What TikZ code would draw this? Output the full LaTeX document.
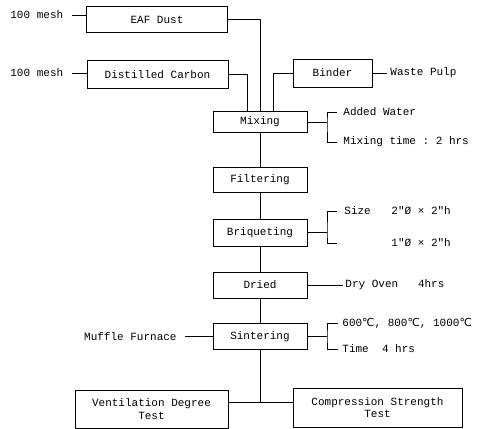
\documentclass[tikz,border=0pt]{standalone}
\usepackage{fontspec}
\setmonofont{Liberation Mono}
\newfontfamily\degfont{DejaVu Sans}
\newcommand{\degC}{{\degfont\char"2103}}
\tikzset{
  box/.style={draw, inner sep=0pt, minimum width=94pt, font=\ttfamily\fontsize{11}{12.5}\selectfont},
  lbl/.style={inner sep=0pt, anchor=west, font=\ttfamily\fontsize{11}{12.5}\selectfont},
}
\begin{document}
\begin{tikzpicture}[x=1pt,y=-1pt,line width=0.8pt]
\useasboundingbox (0,0) rectangle (484,428);

% raw materials
\node[box,minimum width=141pt,minimum height=26pt] (dust) at (157,19.5) {EAF Dust};
\node[box,minimum width=141pt,minimum height=28pt] (carbon) at (157.5,74.5) {Distilled Carbon};
\node[box,minimum width=79pt,minimum height=28pt] (binder) at (332.5,73) {Binder};

\node[lbl] (meshA) at (10,15) {100 mesh};
\node[lbl] (meshB) at (10,73) {100 mesh};
\node[lbl] (waste) at (390,73) {Waste Pulp};

% process chain
\node[box,minimum height=21pt] (mixing) at (260,122) {Mixing};
\node[box,minimum height=25pt] (filter) at (260,179.5) {Filtering};
\node[box,minimum height=27pt] (briq) at (260,232.5) {Briqueting};
\node[box,minimum height=26pt] (dried) at (260,285) {Dried};
\node[box,minimum height=26pt] (sinter) at (260,336.5) {Sintering};

% tests
\node[box,minimum width=153pt,minimum height=38pt,align=center] (vent) at (151.5,409) {Ventilation Degree\\Test};
\node[box,minimum width=169pt,minimum height=39pt,align=center] (comp) at (377.5,407.5) {Compression Strength\\Test};

% conditions
\node[lbl] (water) at (343,112) {Added Water};
\node[lbl] (mtime) at (343,142) {Mixing time : 2 hrs};
\node[lbl] (size) at (344,211) {Size};
\node[lbl] (sizeA) at (391,211) {2"Ø × 2"h};
\node[lbl] (sizeB) at (391,243) {1"Ø × 2"h};
\node[lbl] (oven) at (345,285) {Dry Oven\ \ \ 4hrs};
\node[lbl,anchor=east] (muffle) at (177,336.5) {Muffle Furnace};
\node[lbl] (temp) at (342,323) {600\degC, 800\degC, 1000\degC};
\node[lbl] (stime) at (342,349) {Time\ \ 4 hrs};

\coordinate (mixbr) at (327,122);
\coordinate (mixtop) at (337,112);
\coordinate (mixbot) at (337,142);
\coordinate (brbr) at (327,232.5);
\coordinate (brtop) at (337,211);
\coordinate (brbot) at (337,243);
\coordinate (sinbr) at (327,336.5);
\coordinate (sintop) at (338,323);
\coordinate (sinbot) at (338,349);
\coordinate (split) at (260,402);

% inputs
\draw[shorten <=8pt] (meshA) -- (meshA -| dust.west);
\draw[shorten <=8pt] (meshB) -- (meshB -| carbon.west);
\draw[shorten >=3pt] (binder) -- (waste);
\draw (dust.east) -| (mixing.north);
\draw (carbon.east) -| ([xshift=-13pt]mixing.north);
\draw (binder.west) -| ([xshift=13pt]mixing.north);

\draw (mixing) -- (filter) -- (briq) -- (dried) -- (sinter);

% brackets
\draw (mixing.east) -- (mixbr);
\draw (mixtop) -| (mixbr) |- (mixbot);
\draw (briq.east) -- (brbr);
\draw (brtop) -| (brbr) |- (brbot);
\draw (sinter.east) -- (sinbr);
\draw (sintop) -| (sinbr) |- (sinbot);
\draw[shorten >=2pt] (dried) -- (oven);
\draw[shorten <=8pt] (muffle) -- (sinter);

\draw (sinter.south) -- (split);
\draw (vent.east |- split) -- (comp.west |- split);
\end{tikzpicture}
\end{document}
